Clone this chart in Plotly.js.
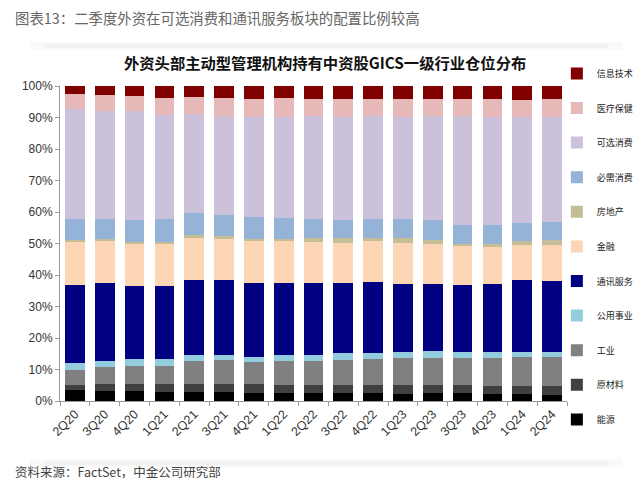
<!DOCTYPE html>
<html><head><meta charset="utf-8">
<script src="https://cdn.plot.ly/plotly-3.0.1.min.js"></script>
<style>body{margin:0;background:#fff}#c{width:640px;height:494px}</style>
</head><body><div id="c"></div>
<script>
const quarters = ["2Q20","3Q20","4Q20","1Q21","2Q21","3Q21","4Q21","1Q22","2Q22","3Q22","4Q22","1Q23","2Q23","3Q23","4Q23","1Q24","2Q24"];
const energy      = [3.4,3.3,3.3,3.0,2.8,2.8,2.7,2.5,2.4,2.4,2.7,2.2,2.4,2.4,2.2,2.1,2.0];
const materials   = [1.7,2.1,2.1,2.4,2.7,2.7,2.7,2.7,2.7,2.7,2.4,2.9,2.7,2.7,2.7,2.7,2.7];
const industrials = [4.7,5.3,5.8,5.8,7.3,7.6,7.0,7.4,7.7,8.0,8.2,8.5,8.5,8.7,8.7,9.2,9.2];
const utilities   = [2.2,2.1,2.0,2.0,1.7,1.6,1.7,1.9,1.8,2.0,1.9,1.9,2.3,1.9,1.9,1.7,1.7];
const commServ    = [24.9,24.6,23.4,23.2,23.9,23.6,23.3,22.9,22.8,22.4,22.5,21.7,21.2,21.0,21.7,22.6,22.5];
const financials  = [13.7,13.3,13.4,13.6,13.5,13.0,13.4,13.4,13.0,12.7,13.0,13.1,12.7,12.4,11.7,11.1,11.3];
const realEstate  = [0.4,0.6,0.6,0.6,0.7,1.0,0.7,0.7,1.3,1.4,1.1,1.4,1.3,0.8,1.0,1.3,1.6];
const staples     = [6.8,6.5,6.9,7.2,7.1,6.6,6.9,6.7,6.2,6.0,6.0,6.0,6.3,6.0,5.9,5.7,5.7];
const discretion  = [35.0,34.3,34.5,33.1,31.4,31.5,31.8,32.0,32.6,32.6,32.7,32.4,33.0,34.5,34.4,33.8,33.6];
const healthCare  = [4.8,5.1,4.7,5.3,5.3,5.7,5.7,5.9,5.5,5.8,5.5,5.8,5.6,5.5,5.8,5.3,5.6];
const infoTech    = [2.4,2.9,3.3,3.7,3.7,3.9,4.1,3.9,4.0,4.0,4.0,4.0,4.0,4.0,4.0,4.5,4.1];

const seriesNames = ["能源","原材料","工业","公用事业","通讯服务","金融","房地产","必需消费","可选消费","医疗保健","信息技术"];
const seriesData = [energy,materials,industrials,utilities,commServ,financials,realEstate,staples,discretion,healthCare,infoTech];
const seriesColors = ["#000000","#404040","#808080","#93CDDD","#000080","#FCD5B5","#C4BD97","#95B3D7","#CCC1DA","#E6B9B8","#800000"];

const traces = seriesNames.map((n,i)=>({
  type:'bar', name:n, x:quarters, y:seriesData[i].map(v=>v/100),
  marker:{color:seriesColors[i], line:{width:0}}, legendgroup:'g'+i,
  legendrank: seriesNames.length - i,
  hoverinfo:'name+y'
}));

const cjk = '"Noto Sans CJK SC", "Liberation Sans", sans-serif';
const layout = {
  width:640, height:494,
  margin:{l:60, r:73, t:86, b:93, autoexpand:false},
  barmode:'stack', bargap:0.34,
  paper_bgcolor:'#fff', plot_bgcolor:'#fff',
  font:{family:cjk, color:'#333'},
  showlegend:true,
  legend:{x:0.980, xanchor:'left', y:1.086, yanchor:'top', traceorder:'grouped',
    tracegroupgap:15.6, font:{size:9, color:'#222', family:cjk}, itemwidth:30,
    maxheight:1, bgcolor:'rgba(0,0,0,0)'},
  xaxis:{type:'category', tickangle:-45, ticks:'outside', ticklen:4, tickcolor:'#999',
    tickson:'boundaries', showline:true, linecolor:'#999', linewidth:1,
    tickfont:{size:12.5, color:'#333', family:'"Liberation Sans", Arial, sans-serif'}, showgrid:false},
  yaxis:{range:[0,1], tickvals:[0,0.1,0.2,0.3,0.4,0.5,0.6,0.7,0.8,0.9,1], tickformat:'.0%',
    ticks:'outside', ticklen:4, tickcolor:'#999', showline:true, linecolor:'#999', linewidth:1,
    showgrid:false, zeroline:false,
    tickfont:{size:12, color:'#333', family:'"Liberation Sans", Arial, sans-serif'}},
  annotations:[
    {text:'图表13：二季度外资在可选消费和通讯服务板块的配置比例较高', xref:'paper', yref:'paper',
     x:-0.092, xanchor:'left', y:1.216, yanchor:'middle', showarrow:false,
     font:{size:14.4, color:'#666', family:cjk}},
    {text:'<b>外资头部主动型管理机构持有中资股GICS一级行业仓位分布</b>', xref:'paper', yref:'paper',
     x:0.523, xanchor:'center', y:1.075, yanchor:'middle', showarrow:false,
     font:{size:15.3, color:'#111', family:cjk}},
    {text:'资料来源：FactSet，中金公司研究部', xref:'paper', yref:'paper',
     x:-0.092, xanchor:'left', y:-0.225, yanchor:'middle', showarrow:false,
     font:{size:12.5, color:'#444', family:cjk}}
  ],
  shapes:[
    {type:'rect', xref:'paper', yref:'paper', x0:-0.06, x1:1.11, y0:1.115, y1:1.14, line:{width:0}, fillcolor:'rgba(0,0,0,0.025)'},
    {type:'rect', xref:'paper', yref:'paper', x0:-0.03, x1:1.08, y0:1.121, y1:1.134, line:{width:0}, fillcolor:'rgba(0,0,0,0.03)'},
    {type:'rect', xref:'paper', yref:'paper', x0:-0.06, x1:1.11, y0:-0.21, y1:-0.185, line:{width:0}, fillcolor:'rgba(0,0,0,0.025)'},
    {type:'rect', xref:'paper', yref:'paper', x0:-0.03, x1:1.08, y0:-0.204, y1:-0.191, line:{width:0}, fillcolor:'rgba(0,0,0,0.03)'}
  ]
};
Plotly.newPlot('c', traces, layout, {displayModeBar:false, staticPlot:true});
</script></body></html>
